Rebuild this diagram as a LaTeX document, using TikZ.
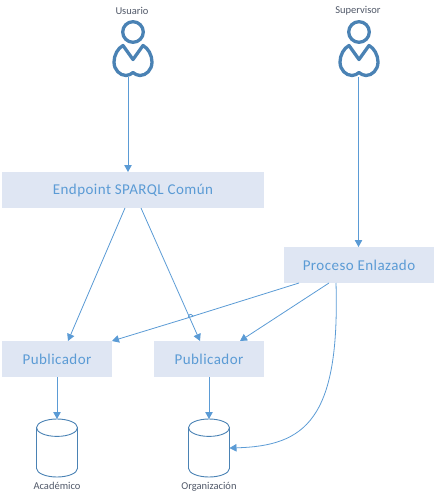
\documentclass[tikz,border=0pt]{standalone}
\usepackage{fontspec}
\setmainfont{Carlito}
\newfontfamily\cajafont[LetterSpace=3]{Carlito}
\usepackage{tikz}
\usetikzlibrary{shapes.geometric,arrows.meta,positioning,calc}
\definecolor{linea}{HTML}{5B9BD5}
\definecolor{fondo}{HTML}{DFE6F3}
\definecolor{icono}{HTML}{4A82B4}
\definecolor{etiq}{HTML}{505868}
\newcommand{\barril}[1]{%
  \begin{scope}[shift={(#1.center)}]
    \draw[icono, line width=0.9pt] (-20.5,-20.3) -- (-20.5,20.3) .. controls (-20.5,25.1) and (-11.3,29) .. (0,29) .. controls (11.3,29) and (20.5,25.1) .. (20.5,20.3) -- (20.5,-20.3);
    \draw[icono, line width=0.9pt] (0,-20.3) ellipse [x radius=20.5pt, y radius=8.7pt];
  \end{scope}}
\tikzset{
  caja/.style={rectangle, fill=fondo, inner sep=0pt, outer sep=0pt, minimum height=36pt, align=center, text=linea, font=\fontsize{15}{18}\selectfont\cajafont},
  base/.style={rectangle, inner sep=0pt, outer sep=0pt, minimum width=41pt, minimum height=58pt},
  rotulo/.style={inner sep=0pt, text=etiq, font=\fontsize{10.5}{12}\selectfont},
  flecha/.style={-{Triangle[length=7pt,width=7.5pt]}, line width=0.8pt, color=linea},
  persona/.pic={
    \draw[icono, line width=3.3pt] (0,-16) circle (10.3pt);
    \draw[icono, line width=3.3pt, line join=round] (-10,-2.5) -- (0,11.5) -- (10,-2.5) .. controls (15,0) and (19,7) .. (19,14) .. controls (19,22) and (13,27.5) .. (7,27.5) .. controls (4,27.5) and (2,26) .. (0,24.5) .. controls (-2,26) and (-4,27.5) .. (-7,27.5) .. controls (-13,27.5) and (-19,22) .. (-19,14) .. controls (-19,7) and (-15,0) .. cycle;
    \coordinate (-pie) at (0,29);
  }
}
\begin{document}
\begin{tikzpicture}[x=1pt, y=-1pt]
\useasboundingbox (0,0) rectangle (436,497);
\node[caja, minimum width=262pt] (endpoint) at (133,190) {Endpoint SPARQL Común};
\node[caja, minimum width=150pt, below right=39pt and 20pt of endpoint] (proceso) {Proceso Enlazado};
\node[caja, minimum width=110pt, below=133pt of endpoint, xshift=76pt] (pubb) {Publicador};
\node[caja, minimum width=110pt, left=42pt of pubb] (puba) {Publicador};
\node[base, below=42pt of puba] (acad) {};
\node[base, below=42pt of pubb] (orga) {};
\barril{acad}
\barril{orga}
\node[rotulo, below=5pt of acad] (lacad) {Académico};
\node[rotulo, below=5pt of orga] (lorga) {Organización};
\pic (usu) at (133,48) {persona};
\pic (sup) at (359,48) {persona};
\node[rotulo] (lusu) at (132,11) {Usuario};
\node[rotulo] (lsup) at (358,11) {Supervisor};
\coordinate (saltoa) at (188.3,317.6);
\coordinate (saltob) at (193.3,316.2);
\draw[flecha] ([xshift=-5pt]usu-pie) -- ([xshift=-5pt]endpoint.north);
\draw[flecha] ([xshift=-0.5pt]sup-pie) -- ([xshift=-0.5pt]proceso.north);
\draw[flecha] ([xshift=-8pt]endpoint.south) -- ([xshift=11pt]puba.north);
\draw[flecha] ([xshift=8pt]endpoint.south) -- ([xshift=-9pt]pubb.north);
\draw[flecha] ([xshift=-60pt]proceso.south) -- (saltoa) .. controls (189,313.5) and (190.5,313.5) .. (saltob) -- (puba.north east);
\draw[flecha] ([xshift=-30pt]proceso.south) -- ([xshift=31pt]pubb.north);
\draw[flecha] ([xshift=-23pt]proceso.south) .. controls (340,420) and (305,446) .. (orga.east);
\draw[flecha] (puba) -- (acad);
\draw[flecha] (pubb) -- (orga);
\end{tikzpicture}
\end{document}
